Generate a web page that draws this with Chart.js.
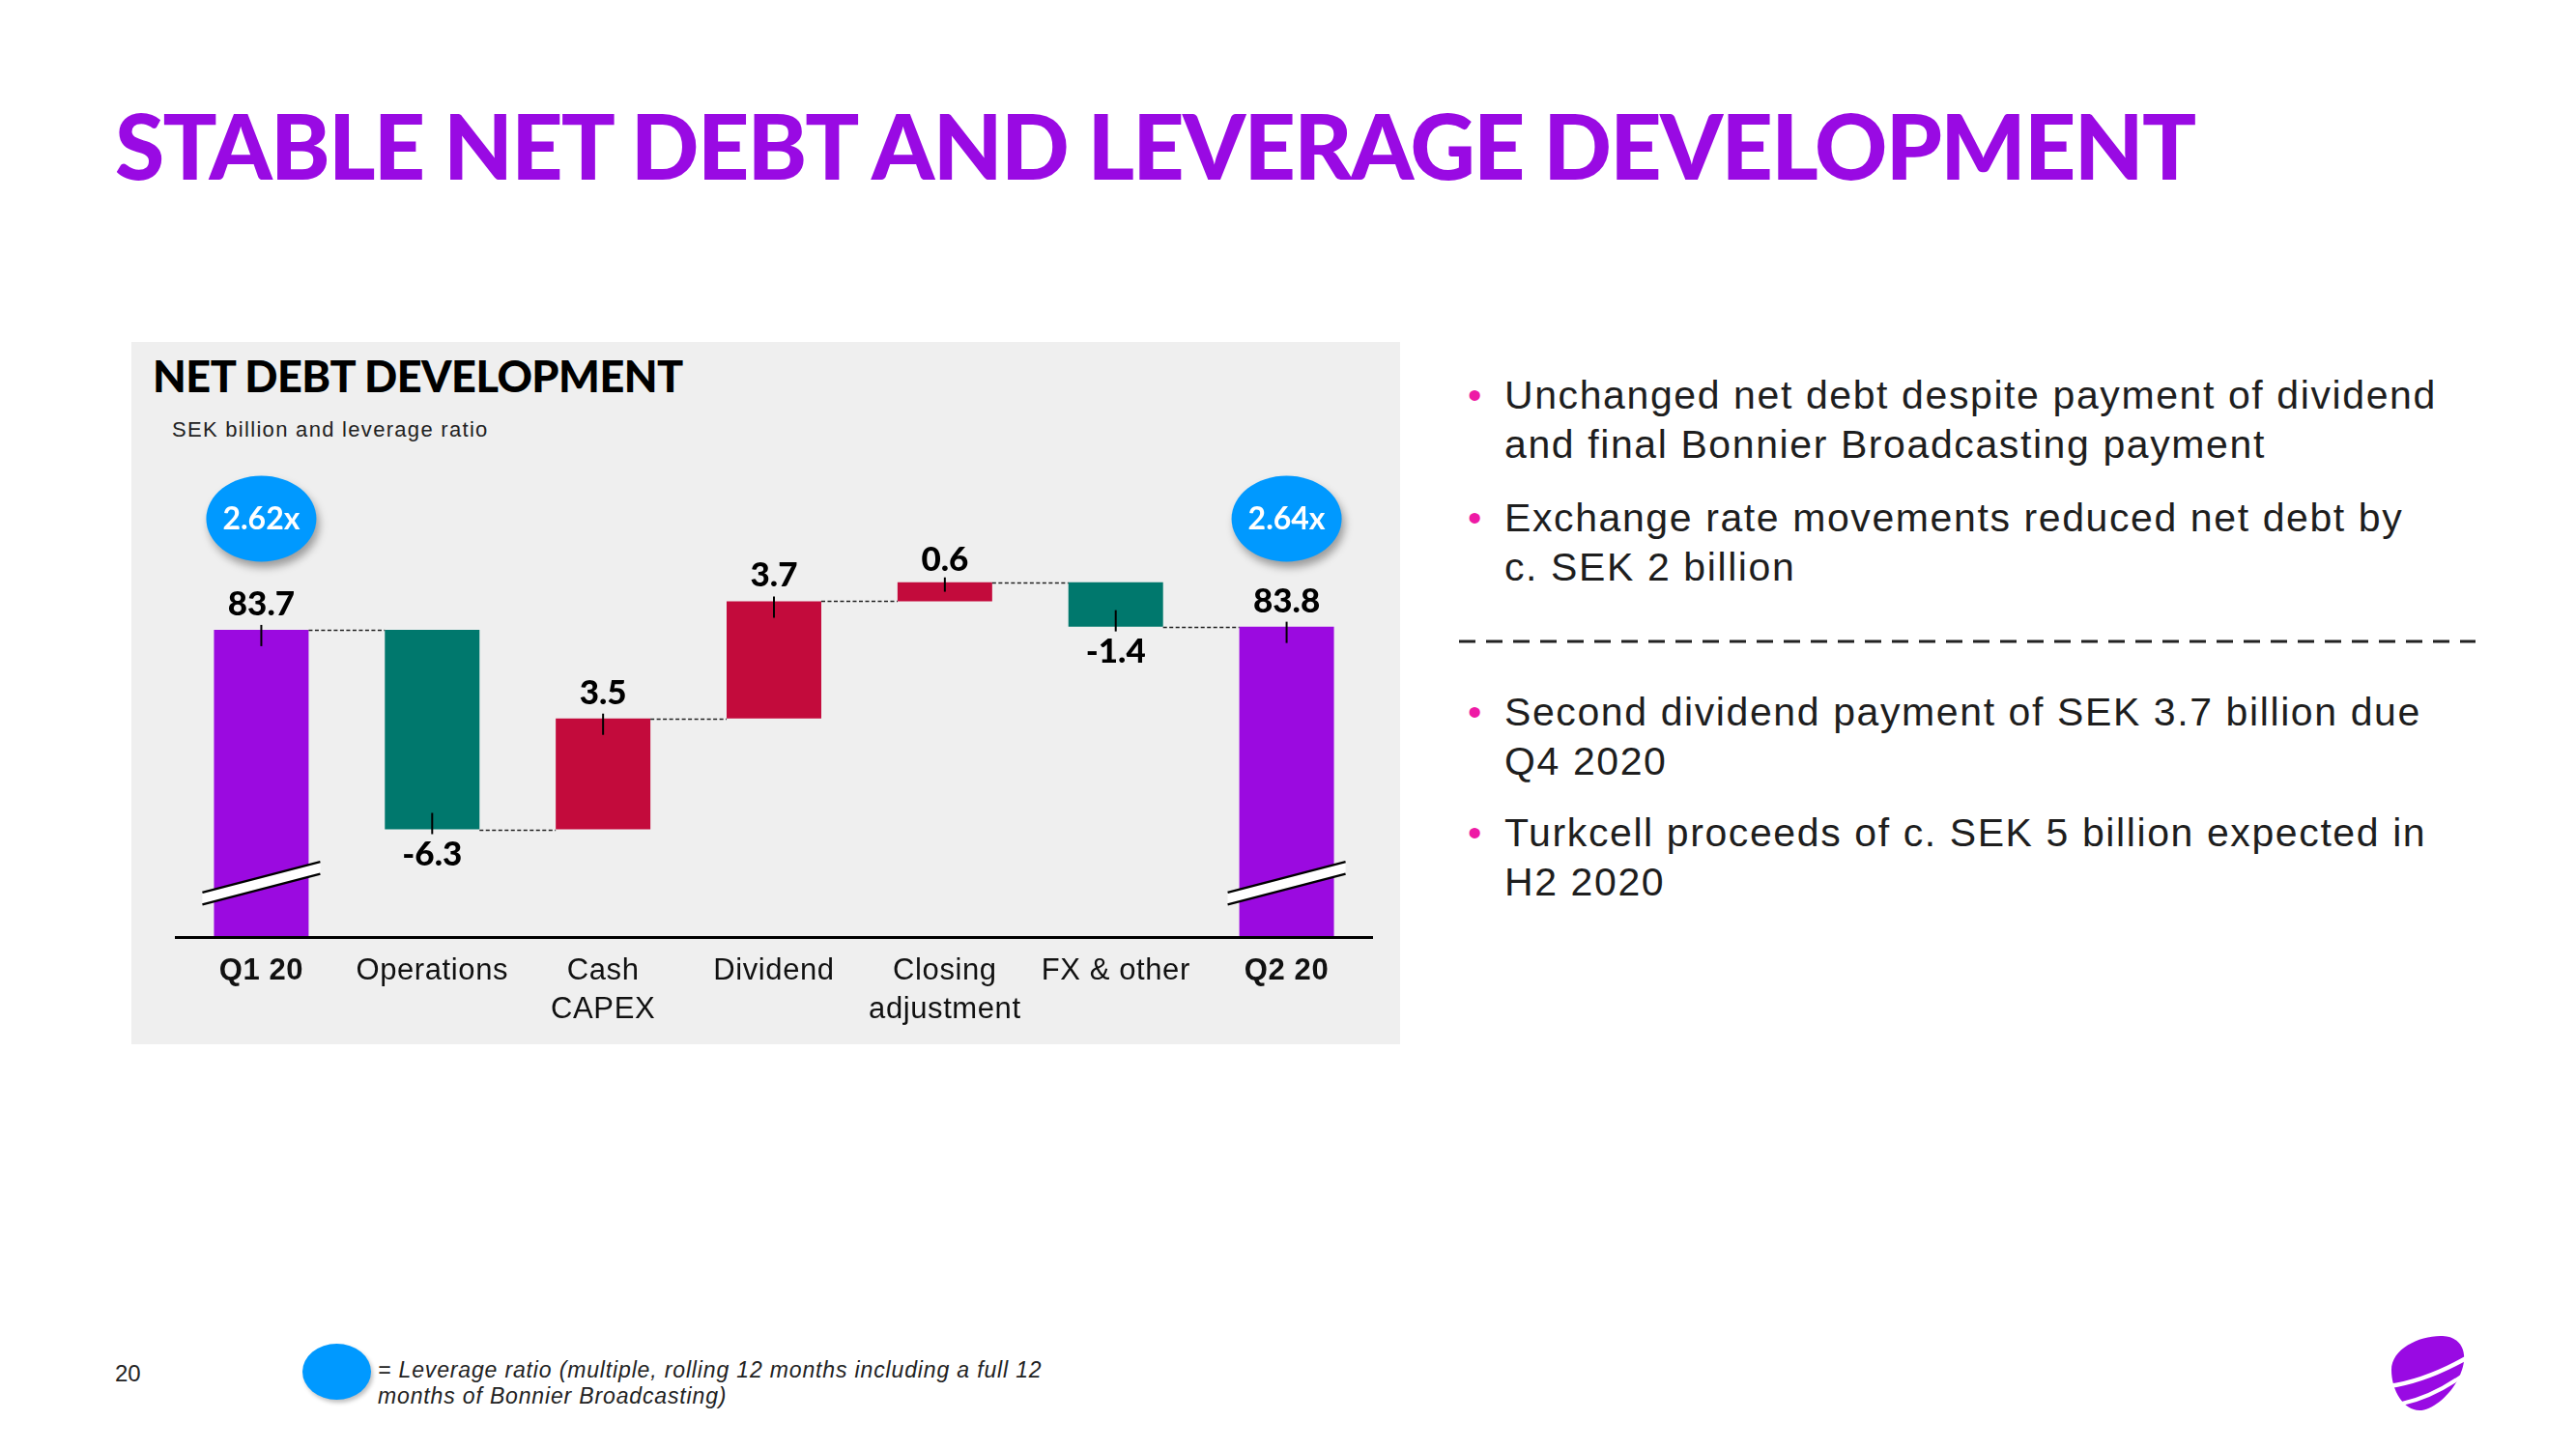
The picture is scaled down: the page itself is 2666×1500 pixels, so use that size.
<!DOCTYPE html>
<html>
<head>
  <meta charset="utf-8">
  <title>Stable net debt and leverage development</title>
  <script src="https://cdn.jsdelivr.net/npm/chart.js"></script>
  <style>
    html, body { margin: 0; padding: 0; background: #fff; }
    #slide { position: relative; width: 2666px; height: 1500px; overflow: hidden; background: #fff;
             font-family: 'Liberation Sans', Arial, sans-serif; color: #1e1e1e; }
    .abs { position: absolute; white-space: nowrap; }
    #title { left: 119px; top: 104px; font: 900 93px/1 Lato, sans-serif; letter-spacing: -1.7px; color: #990AE3; }
    #panel { left: 136px; top: 354px; width: 1313px; height: 727px; background: #efefef; }
    #panel-title { left: 158px; top: 367px; font: 900 45px/1 Lato, sans-serif; letter-spacing: -0.5px; color: #000; }
    #panel-sub { left: 178px; top: 434px; font: 22px/1 'Liberation Sans', Arial, sans-serif; letter-spacing: 1.3px; color: #222; }
    #chartBox { left: 136px; top: 354px; width: 1313px; height: 727px; }
    .bullet { left: 1557px; font: 41px/51px 'Liberation Sans', Arial, sans-serif; letter-spacing: 1.6px; color: #1e1e1e; }
    .bullet::before { content: '\2022'; position: absolute; left: -38px; color: #EE1AA5; letter-spacing: 0; }
    #pageno { left: 119px; top: 1410px; font: 24px/1 'Liberation Sans', Arial, sans-serif; color: #222; }
    #dot { left: 313px; top: 1391px; width: 71px; height: 58px; border-radius: 50%; background: #0099FF;
           box-shadow: 2px 3px 4px rgba(0,0,0,0.25); }
    #note { left: 391px; top: 1405px; font: italic 23px/27px 'Liberation Sans', Arial, sans-serif; letter-spacing: 0.85px; color: #222; }
  </style>
</head>
<body>
<div id="slide">
  <div id="title" class="abs">STABLE NET DEBT AND LEVERAGE DEVELOPMENT</div>

  <!-- Panneau du graphique -->
  <div id="panel" class="abs"></div>
  <div id="panel-title" class="abs">NET DEBT DEVELOPMENT</div>
  <div id="panel-sub" class="abs">SEK billion and leverage ratio</div>
  <div id="chartBox" class="abs"><canvas id="debtChart" width="1313" height="727"></canvas></div>

  <!-- Commentaires -->
  <div class="abs bullet" style="top:384px;">Unchanged net debt despite payment of dividend<br>and final Bonnier Broadcasting payment</div>
  <div class="abs bullet" style="top:511px;">Exchange rate movements reduced net debt by<br>c. SEK 2 billion</div>
  <svg class="abs" style="left:1510px; top:658px;" width="1052" height="12">
    <line x1="0" y1="6" x2="1052" y2="6" stroke="#222" stroke-width="3" stroke-dasharray="17 11"/>
  </svg>
  <div class="abs bullet" style="top:712px;">Second dividend payment of SEK 3.7 billion due<br>Q4 2020</div>
  <div class="abs bullet" style="top:837px;">Turkcell proceeds of c. SEK 5 billion expected in<br>H2 2020</div>

  <!-- Pied de page -->
  <div id="pageno" class="abs">20</div>
  <div id="dot" class="abs"></div>
  <div id="note" class="abs">= Leverage ratio (multiple, rolling 12 months including a full 12<br>months of Bonnier Broadcasting)</div>
  <svg class="abs" style="left:2470px; top:1378px;" width="90" height="90">
    <path d="M5 40 C5 18 35 4 58 5 C78 6 84 22 78 40 C72 60 50 82 34 82 C18 82 5 62 5 40 Z" fill="#990AE3"/>
    <path d="M2 57 Q40 52 84 27" stroke="#fff" stroke-width="4.5" fill="none"/>
    <path d="M16 75 Q48 68 80 45" stroke="#fff" stroke-width="4" fill="none"/>
  </svg>
</div>

<script>
  // Données
  const categories = [['Q1 20'], ['Operations'], ['Cash', 'CAPEX'], ['Dividend'], ['Closing', 'adjustment'], ['FX & other'], ['Q2 20']];
  const openingDebt = 83.7;
  const changes = [-6.3, 3.5, 3.7, 0.6, -1.4];
  const closingDebt = 83.8;
  const leverage = [2.62, 2.64];

  // Axe coupé
  const Y_MIN = 74;
  const Y_MAX = 89.43;
  const BREAK_AT = 75.7;

  const PURPLE = '#9B0AE0', TEAL = '#00786D', RED = '#C30B3C', BUBBLE = '#0099FF';

  // Cascade : barres flottantes [début, fin]
  const bars = [[Y_MIN, openingDebt]];
  const shown = [openingDebt];
  const levels = [openingDebt];
  let running = openingDebt;
  changes.forEach(c => {
    const next = Math.round((running + c) * 10) / 10;
    bars.push([running, next]);
    shown.push(c);
    levels.push(next);
    running = next;
  });
  bars.push([Y_MIN, closingDebt]);
  shown.push(closingDebt);
  levels.push(closingDebt);

  const lastIdx = categories.length - 1;
  const colors = shown.map((v, i) => (i === 0 || i === lastIdx) ? PURPLE : (v < 0 ? TEAL : RED));

  const waterfallDecor = {
    id: 'waterfallDecor',
    beforeDraw(chart) { chart.ctx.letterSpacing = '0.6px'; },
    afterDraw(chart) { chart.ctx.letterSpacing = '0px'; },
    afterDatasetsDraw(chart) {
      const ctx = chart.ctx;
      const y = chart.scales.y;
      const meta = chart.getDatasetMeta(0);
      ctx.save();
      ctx.letterSpacing = '0px';

      const geo = meta.data.map((el, i) => {
        const [a, b] = bars[i];
        return {
          x: el.x, half: el.width / 2,
          top: y.getPixelForValue(Math.max(a, b)),
          bottom: y.getPixelForValue(Math.min(a, b))
        };
      });

      // Lignes pointillées entre barres
      ctx.strokeStyle = '#222';
      ctx.lineWidth = 1.5;
      ctx.setLineDash([4, 2.5]);
      for (let i = 0; i < geo.length - 1; i++) {
        const py = Math.round(y.getPixelForValue(levels[i])) + 0.5;
        ctx.beginPath();
        ctx.moveTo(geo[i].x + geo[i].half, py);
        ctx.lineTo(geo[i + 1].x - geo[i + 1].half, py);
        ctx.stroke();
      }
      ctx.setLineDash([]);

      // Traits de coupure sur les totaux
      [0, lastIdx].forEach(i => {
        const cx = geo[i].x, yc = y.getPixelForValue(BREAK_AT);
        const hw = 61, dy = 15.9, th = 12.5;
        ctx.beginPath();
        ctx.moveTo(cx - hw, yc - th / 2 + dy);
        ctx.lineTo(cx + hw, yc - th / 2 - dy);
        ctx.lineTo(cx + hw, yc + th / 2 - dy);
        ctx.lineTo(cx - hw, yc + th / 2 + dy);
        ctx.closePath();
        ctx.fillStyle = '#fff';
        ctx.fill();
        ctx.strokeStyle = '#000';
        ctx.lineWidth = 2.5;
        ctx.beginPath();
        ctx.moveTo(cx - hw, yc - th / 2 + dy);
        ctx.lineTo(cx + hw, yc - th / 2 - dy);
        ctx.moveTo(cx - hw, yc + th / 2 + dy);
        ctx.lineTo(cx + hw, yc + th / 2 - dy);
        ctx.stroke();
      });

      // Valeurs + petits repères
      ctx.font = '900 35px Lato, sans-serif';
      ctx.textAlign = 'center';
      ctx.textBaseline = 'alphabetic';
      ctx.fillStyle = '#000';
      geo.forEach((g, i) => {
        const below = shown[i] < 0 && i !== 0 && i !== lastIdx;
        const h = g.bottom - g.top;
        const inside = Math.min(17, h / 2);
        ctx.strokeStyle = '#000';
        ctx.lineWidth = 2;
        ctx.beginPath();
        if (below) {
          ctx.moveTo(g.x, g.bottom + 5);
          ctx.lineTo(g.x, g.bottom - inside);
        } else {
          ctx.moveTo(g.x, g.top - 5);
          ctx.lineTo(g.x, g.top + inside);
        }
        ctx.stroke();
        const txt = shown[i].toFixed(1);
        const gap = h < 25 ? 12 : 15;
        ctx.fillText(txt, g.x, below ? g.bottom + 37 : g.top - gap);
      });

      // Bulles du ratio de levier
      [0, lastIdx].forEach((i, k) => {
        const cx = geo[i].x, cy = chart.chartArea.top + 73;
        ctx.save();
        ctx.shadowColor = 'rgba(0,0,0,0.35)';
        ctx.shadowBlur = 8;
        ctx.shadowOffsetX = 3;
        ctx.shadowOffsetY = 6;
        ctx.fillStyle = BUBBLE;
        ctx.beginPath();
        ctx.ellipse(cx, cy, 57, 44.5, 0, 0, Math.PI * 2);
        ctx.fill();
        ctx.restore();
        ctx.fillStyle = '#fff';
        ctx.font = '700 32px Lato, sans-serif';
        ctx.fillText(leverage[k].toFixed(2) + 'x', cx, cy + 11);
      });

      ctx.restore();
    }
  };

  new Chart(document.getElementById('debtChart').getContext('2d'), {
    type: 'bar',
    data: {
      labels: categories,
      datasets: [{
        data: bars,
        backgroundColor: colors,
        borderWidth: 0,
        categoryPercentage: 1,
        barPercentage: 0.554
      }]
    },
    options: {
      responsive: false,
      animation: false,
      layout: { padding: { left: 46, right: 29, top: 110, bottom: 0 } },
      plugins: { legend: { display: false }, tooltip: { enabled: false }, title: { display: false } },
      scales: {
        x: {
          grid: { display: false, drawTicks: false },
          border: { display: true, color: '#000', width: 3, z: 1 },
          ticks: {
            color: '#111',
            padding: 15,
            maxRotation: 0,
            autoSkip: false,
            font: c => ({
              family: "'Liberation Sans', Arial, sans-serif",
              size: 31,
              lineHeight: 1.29,
              weight: (c.index === 0 || c.index === lastIdx) ? 'bold' : 'normal'
            })
          },
          afterFit: s => { s.height = 111; }
        },
        y: { display: false, min: Y_MIN, max: Y_MAX }
      }
    },
    plugins: [waterfallDecor]
  });
</script>
</body>
</html>
